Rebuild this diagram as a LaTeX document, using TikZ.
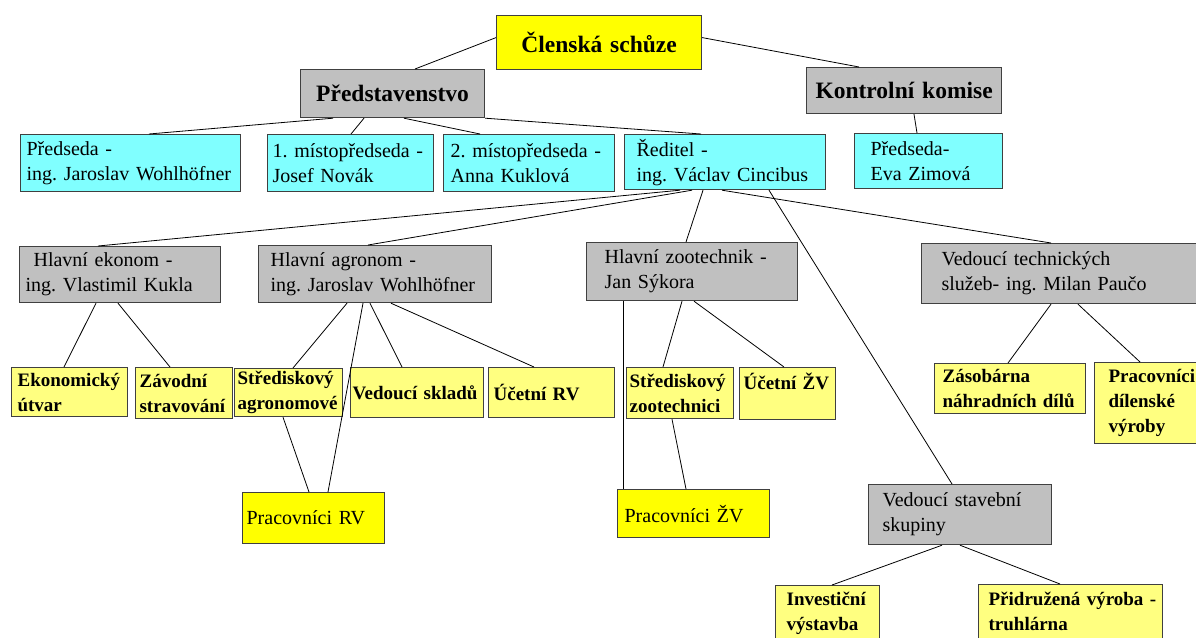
\documentclass[tikz,border=0pt]{standalone}
\usepackage{fontspec}
\setmainfont{Liberation Serif}
\usepackage{tikz}
\frenchspacing

\definecolor{boxgrey}{HTML}{C0C0C0}
\definecolor{boxcyan}{HTML}{80FFFF}
\definecolor{boxyellow}{HTML}{FFFF00}
\definecolor{boxpale}{HTML}{FFFF80}

\begin{document}
\begin{tikzpicture}[
        x=1pt, y=1pt,
        every node/.style={font=\fontsize{20}{25}\selectfont},
        box/.style={draw=black!75, line width=1.2pt, anchor=north west, inner ysep=0pt, align=left},
        title/.style={box, align=center, font=\fontsize{23.5}{28}\selectfont\bfseries},
        greybox/.style={box, fill=boxgrey},
        cyanbox/.style={box, fill=boxcyan},
        yellowbox/.style={box, fill=boxyellow},
        paleybox/.style={box, fill=boxpale, font=\fontsize{19}{25}\selectfont\bfseries},
        link/.style={line width=0.8pt}
    ]

    \useasboundingbox (0,0) rectangle (1196,-637);
    \clip (0,0) rectangle (1196,-637);
    \fill[white] (0,0) rectangle (1196,-637);

    % Top level
    \node[title, fill=boxyellow, text width=181pt, inner xsep=12pt, minimum height=54pt] (clen) at (496,-15) {Členská schůze};
    \node[title, fill=boxgrey, text width=172pt, inner xsep=6pt, minimum height=48pt] (predstav) at (300,-69) {Představenstvo};
    \node[title, fill=boxgrey, text width=183pt, inner xsep=6pt, minimum height=46pt] (kontrol) at (806,-67) {Kontrolní komise};

    % Board members
    \node[cyanbox, text width=208pt, inner xsep=6pt, minimum height=57pt] (predseda) at (20,-134) {Předseda -\\ing. Jaroslav Wohlhöfner};
    \node[cyanbox, text width=156pt, inner xsep=5pt, minimum height=57pt] (mist1) at (267,-134) {1. místopředseda -\\Josef Novák};
    \node[cyanbox, text width=157pt, inner xsep=7pt, minimum height=57pt] (mist2) at (443,-134) {2. místopředseda -\\Anna Kuklová};
    \node[cyanbox, text width=177pt, inner xsep=12pt, minimum height=55pt] (reditel) at (624,-134) {Ředitel -\\ing. Václav Cincibus};
    \node[cyanbox, text width=116pt, inner xsep=16pt, minimum height=55pt] (zimova) at (854,-133) {Předseda-\\Eva Zimová};

    % Heads under the director
    \node[greybox, text width=189pt, inner xsep=6pt, minimum height=56pt] (ekonom) at (19,-246) {\hspace*{8pt}Hlavní ekonom -\\ing. Vlastimil Kukla};
    \node[greybox, text width=209pt, inner xsep=12pt, minimum height=57pt] (agronom) at (258,-245) {Hlavní agronom -\\ing. Jaroslav Wohlhöfner};
    \node[greybox, text width=175pt, inner xsep=18pt, minimum height=58pt] (zootech) at (586,-242) {Hlavní zootechnik -\\Jan Sýkora};
    \node[greybox, text width=259pt, inner xsep=20pt, minimum height=60pt] (techsl) at (921,-243) {Vedoucí technických\\služeb- ing. Milan Paučo};

    % Departments
    \node[paleybox, text width=104pt, inner xsep=6pt, minimum height=49pt] (ekout) at (11,-367) {Ekonomický\\útvar};
    \node[paleybox, text width=89pt, inner xsep=4pt, minimum height=51pt] (stravo) at (135,-367) {Závodní\\stravování};
    \node[paleybox, text width=102pt, inner xsep=3pt, minimum height=48pt] (stragr) at (234,-368) {Střediskový\\agronomové};
    \node[paleybox, text width=129pt, inner xsep=2pt, minimum height=50pt] (sklad) at (350,-367) {Vedoucí skladů};
    \node[paleybox, text width=116pt, inner xsep=5pt, minimum height=50pt] (ucetrv) at (488,-367) {Účetní RV};
    \node[paleybox, text width=101pt, inner xsep=3pt, minimum height=51pt] (strzoo) at (626,-367) {Střediskový\\zootechnici};
    \node[paleybox, text width=88pt, inner xsep=4pt, minimum height=52pt] (ucetzv) at (739,-367) {Účetní ŽV\\\mbox{}};
    \node[paleybox, text width=135pt, inner xsep=8pt, minimum height=50pt] (zasob) at (934,-363) {Zásobárna\\náhradních dílů};
    \node[paleybox, text width=98pt, inner xsep=14pt, minimum height=81pt] (dilen) at (1094,-362) {Pracovníci\\dílenské\\výroby};

    % Workers and building group
    \node[yellowbox, text width=134pt, inner xsep=4pt, minimum height=51pt] (pracrv) at (242,-492) {Pracovníci RV};
    \node[yellowbox, text width=138pt, inner xsep=7pt, minimum height=48pt] (praczv) at (617,-489) {Pracovníci ŽV};
    \node[greybox, text width=155pt, inner xsep=14pt, minimum height=60pt] (stavba) at (868,-484) {Vedoucí stavební\\skupiny};
    \node[paleybox, text width=82pt, inner xsep=11pt, minimum height=56pt] (invest) at (775,-585) {Investiční\\výstavba};
    \node[paleybox, text width=174pt, inner xsep=5pt, minimum height=54pt] (pridruz) at (978,-584) {\hspace*{5pt}Přidružená výroba -\\\hspace*{5pt}truhlárna};

    % Links from the meeting
    \draw[link] ([yshift=5pt]clen.west) -- ([xshift=115pt]predstav.north west);
    \draw[link] ([yshift=5pt]clen.east) -- ([xshift=53pt]kontrol.north west);

    % Links from the board
    \draw[link] ([xshift=33pt]predstav.south west) -- ([xshift=129pt]predseda.north west);
    \draw[link] ([xshift=64pt]predstav.south west) -- ([xshift=84pt]mist1.north west);
    \draw[link] ([xshift=104pt]predstav.south west) -- ([xshift=37pt]mist2.north west);
    \draw[link] (predstav.south east) -- ([xshift=77pt]reditel.north west);
    \draw[link] ([xshift=108pt]kontrol.south west) -- ([xshift=63pt]zimova.north west);

    % Links from the director
    \draw[link] ([xshift=56pt]reditel.south west) -- ([xshift=79pt]ekonom.north west);
    \draw[link] ([xshift=68pt]reditel.south west) -- ([xshift=110pt]agronom.north west);
    \draw[link] ([xshift=79pt]reditel.south west) -- ([xshift=100pt]zootech.north west);
    \draw[link] ([xshift=98pt]reditel.south west) -- ([xshift=130pt]techsl.north west);
    \draw[link] ([xshift=145pt]reditel.south west) -- ([xshift=84pt]stavba.north west);

    % Economy
    \draw[link] ([xshift=77pt]ekonom.south west) -- ([xshift=53pt]ekout.north west);
    \draw[link] ([xshift=99pt]ekonom.south west) -- ([xshift=35pt]stravo.north west);

    % Plant production
    \draw[link] ([xshift=89pt]agronom.south west) -- ([xshift=59pt]stragr.north west);
    \draw[link] ([xshift=105pt]agronom.south west) -- ([xshift=86pt]pracrv.north west);
    \draw[link] ([xshift=112pt]agronom.south west) -- ([xshift=52pt]sklad.north west);
    \draw[link] ([xshift=133pt]agronom.south west) -- ([xshift=46pt]ucetrv.north west);
    \draw[link] ([xshift=49pt]stragr.south west) -- ([xshift=67pt]pracrv.north west);

    % Animal production
    \draw[link] ([xshift=37pt]zootech.south west) -- ([xshift=6pt]praczv.north west);
    \draw[link] ([xshift=96pt]zootech.south west) -- ([xshift=37pt]strzoo.north west);
    \draw[link] ([xshift=108pt]zootech.south west) -- ([xshift=45pt]ucetzv.north west);
    \draw[link] ([xshift=46pt]strzoo.south west) -- ([xshift=69pt]praczv.north west);

    % Technical services and building
    \draw[link] ([xshift=130pt]techsl.south west) -- ([xshift=74pt]zasob.north west);
    \draw[link] ([xshift=157pt]techsl.south west) -- ([xshift=46pt]dilen.north west);
    \draw[link] ([xshift=74pt]stavba.south west) -- ([xshift=57pt]invest.north west);
    \draw[link] ([xshift=92pt]stavba.south west) -- ([xshift=82pt]pridruz.north west);

\end{tikzpicture}
\end{document}
